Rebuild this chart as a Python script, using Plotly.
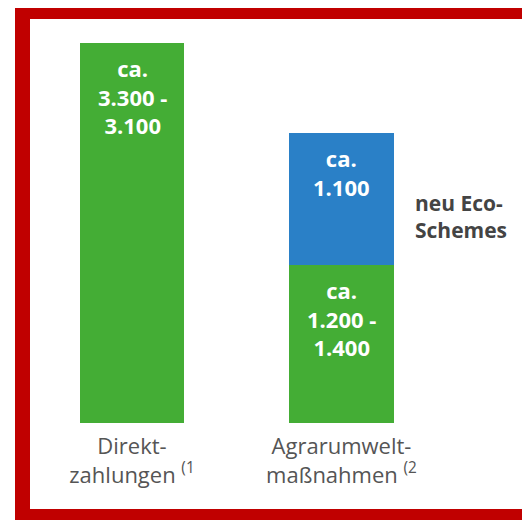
import plotly.graph_objects as go

# Werte (Mio. Euro, grob aus dem Bild geschätzt)
categories = ["Direkt-<br>zahlungen <sup>(1</sup>", "Agrarumwelt-<br>maßnahmen <sup>(2</sup>"]
base_values = [3200, 1330]
eco_values = [0, 1110]
base_labels = ["ca.<br>3.300 -<br>3.100", "ca.<br>1.200 -<br>1.400"]
eco_labels = ["", "ca.<br>1.100"]
eco_note = "neu Eco-<br>Schemes"

GREEN = "#44AD35"
BLUE = "#2A80C7"
RED = "#C00000"
FONT = "Open Sans"

fig = go.Figure()
fig.add_trace(
    go.Bar(
        x=categories,
        y=base_values,
        marker=dict(color=GREEN, line=dict(width=0)),
        width=0.5,
        hoverinfo="skip",
    )
)
fig.add_trace(
    go.Bar(
        x=categories,
        y=eco_values,
        marker=dict(color=BLUE, line=dict(width=0)),
        width=0.5,
        hoverinfo="skip",
    )
)

# Beschriftungen in den Balken
for cat, base, eco, lab, elab in zip(
    categories, base_values, eco_values, base_labels, eco_labels
):
    fig.add_annotation(
        x=cat, y=base, text=f"<b>{lab}</b>", showarrow=False,
        yanchor="top", yshift=-8, align="center",
        font=dict(family=FONT, size=22, color="white"),
    )
    if eco:
        fig.add_annotation(
            x=cat, y=base + eco, text=f"<b>{elab}</b>", showarrow=False,
            yanchor="top", yshift=-8, align="center",
            font=dict(family=FONT, size=22, color="white"),
        )

fig.add_annotation(
    xref="paper", yref="paper", x=0.766, y=0.51,
    xanchor="left", yanchor="middle", align="left", showarrow=False,
    text=f"<b>{eco_note}</b>",
    font=dict(family=FONT, size=21, color="#444444"),
)

# roter Rahmen
for x0, x1, y0, y1 in [
    (-0.03, 1.02, 1.0, 1.04),
    (-0.03, 0.0, -0.26, 1.04),
    (-0.03, 1.02, -0.26, -0.2129),
]:
    fig.add_shape(
        type="rect", xref="paper", yref="paper",
        x0=x0, x1=x1, y0=y0, y1=y1,
        fillcolor=RED, line=dict(width=0), layer="above",
    )

# die Seite hat 8px Rand, deshalb 522x512
fig.update_layout(
    width=522,
    height=512,
    margin=dict(l=22, r=0, t=11, b=97),
    barmode="stack",
    showlegend=False,
    paper_bgcolor="white",
    plot_bgcolor="white",
    font=dict(family=FONT),
    xaxis=dict(
        type="category",
        range=[-0.487, 1.9],
        showgrid=False, zeroline=False, showline=False,
        ticks="",
        tickfont=dict(family=FONT, size=22, color="#555555"),
        ticklabelstandoff=8,
    ),
    yaxis=dict(
        range=[0, 3402],
        visible=False,
    ),
)

fig.write_html("out.html")
